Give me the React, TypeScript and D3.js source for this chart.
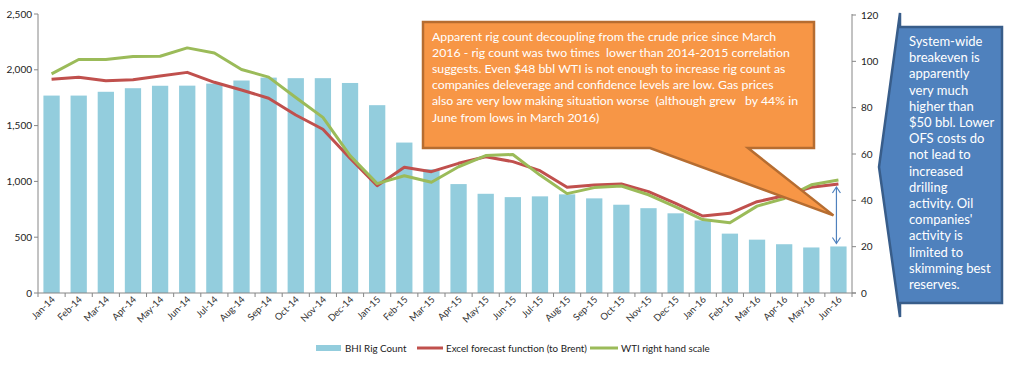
import { useEffect, useRef } from 'react';
import * as d3 from 'd3';

const MONTHS = [
  'Jan-14', 'Feb-14', 'Mar-14', 'Apr-14', 'May-14', 'Jun-14', 'Jul-14', 'Aug-14', 'Sep-14', 'Oct-14',
  'Nov-14', 'Dec-14', 'Jan-15', 'Feb-15', 'Mar-15', 'Apr-15', 'May-15', 'Jun-15', 'Jul-15', 'Aug-15',
  'Sep-15', 'Oct-15', 'Nov-15', 'Dec-15', 'Jan-16', 'Feb-16', 'Mar-16', 'Apr-16', 'May-16', 'Jun-16',
];
const RIG_COUNT = [
  1769, 1769, 1803, 1835, 1857, 1858, 1876, 1904, 1930, 1925,
  1925, 1882, 1683, 1348, 1109, 976, 889, 859, 866, 884,
  848, 791, 760, 714, 650, 532, 478, 437, 408, 417,
];
const FORECAST = [
  1915, 1933, 1902, 1911, 1944, 1977, 1888, 1819, 1745, 1595,
  1467, 1207, 962, 1126, 1087, 1162, 1221, 1177, 1096, 947,
  968, 977, 908, 804, 690, 714, 818, 872, 947, 977,
];
const WTI = [
  94.6, 100.8, 100.8, 102.1, 102.2, 105.8, 103.6, 96.5, 93.2, 84.4,
  75.8, 59.3, 47.2, 50.6, 47.8, 54.5, 59.3, 59.8, 50.9, 42.9,
  45.5, 46.2, 42.4, 37.2, 31.7, 30.3, 37.5, 40.8, 46.7, 48.8,
];
const LEFT_TICKS = [0, 500, 1000, 1500, 2000, 2500];
const RIGHT_TICKS = [0, 20, 40, 60, 80, 100, 120];

const ORANGE_NOTE = [
  'Apparent rig count decoupling from the crude price since March',
  '2016 - rig count was two times  lower than 2014-2015 correlation',
  'suggests. Even $48 bbl WTI is not enough to increase rig count as',
  'companies deleverage and confidence levels are low. Gas prices',
  'also are very low making situation worse  (although grew   by 44% in',
  'June from lows in March 2016)',
];
const BLUE_NOTE = [
  'System-wide', 'breakeven is', 'apparently', 'very much', 'higher than', '$50 bbl. Lower',
  'OFS costs do', 'not lead to', 'increased', 'drilling', 'activity. Oil', 'companies\'',
  'activity is', 'limited to', 'skimming best', 'reserves.',
];

const FONT = 'Lato, "Open Sans", sans-serif';

export default function App() {
  const svgRef = useRef<SVGSVGElement>(null);

  useEffect(() => {
    const svg = d3.select(svgRef.current);
    svg.selectAll('*').remove();

    const left = 38, right = 852, top = 14, bottom = 293;
    const x = d3.scaleBand<string>().domain(MONTHS).range([left, right]).paddingInner(0.4).paddingOuter(0.2);
    const yL = d3.scaleLinear().domain([0, 2500]).range([bottom, top]);
    const yR = d3.scaleLinear().domain([0, 120]).range([bottom, top + 1]);
    const cx = (i: number) => (x(MONTHS[i]) ?? 0) + x.bandwidth() / 2;
    const step = (right - left) / MONTHS.length;

    const axisColor = '#868686';

    // bars
    svg.append('g').selectAll('rect').data(RIG_COUNT).join('rect')
      .attr('x', (_, i) => x(MONTHS[i]) ?? 0)
      .attr('width', x.bandwidth())
      .attr('y', (d) => yL(d))
      .attr('height', (d) => bottom - yL(d))
      .attr('fill', '#93CDDD');

    // lines
    const lineL = d3.line<number>().x((_, i) => cx(i)).y((d) => yL(d));
    const lineR = d3.line<number>().x((_, i) => cx(i)).y((d) => yR(d));
    svg.append('path').attr('d', lineL(FORECAST)).attr('fill', 'none')
      .attr('stroke', '#C0504D').attr('stroke-width', 3).attr('stroke-linejoin', 'round');
    svg.append('path').attr('d', lineR(WTI)).attr('fill', 'none')
      .attr('stroke', '#9BBB59').attr('stroke-width', 3).attr('stroke-linejoin', 'round');

    // left axis
    const gl = svg.append('g');
    gl.append('line').attr('x1', left).attr('x2', left).attr('y1', top).attr('y2', bottom)
      .attr('stroke', axisColor);
    LEFT_TICKS.forEach((t) => {
      gl.append('line').attr('x1', left - 4).attr('x2', left).attr('y1', yL(t)).attr('y2', yL(t))
        .attr('stroke', axisColor);
      gl.append('text').attr('x', left - 6).attr('y', yL(t) + 3.5).attr('text-anchor', 'end')
        .attr('font-size', 10).attr('font-family', FONT).attr('fill', '#222')
        .text(d3.format(',')(t));
    });

    // right axis
    const gr = svg.append('g');
    gr.append('line').attr('x1', right).attr('x2', right).attr('y1', top).attr('y2', bottom)
      .attr('stroke', axisColor);
    RIGHT_TICKS.forEach((t) => {
      gr.append('line').attr('x1', right).attr('x2', right + 4).attr('y1', yR(t)).attr('y2', yR(t))
        .attr('stroke', axisColor);
      gr.append('text').attr('x', right + 9).attr('y', yR(t) + 3.5)
        .attr('font-size', 10).attr('font-family', FONT).attr('fill', '#222').text(t);
    });

    // x axis
    const gx = svg.append('g');
    gx.append('line').attr('x1', left).attr('x2', right + 4).attr('y1', bottom).attr('y2', bottom)
      .attr('stroke', axisColor);
    d3.range(MONTHS.length + 1).forEach((i) => {
      const tx = left + i * step;
      gx.append('line').attr('x1', tx).attr('x2', tx).attr('y1', bottom).attr('y2', bottom + 4)
        .attr('stroke', axisColor);
    });
    MONTHS.forEach((m, i) => {
      gx.append('text')
        .attr('transform', `translate(${cx(i) + 4},${bottom + 7}) rotate(-45)`)
        .attr('text-anchor', 'end').attr('font-size', 9.5).attr('font-family', FONT).attr('fill', '#333')
        .text(m);
    });

    // double arrow (Jun-16 gap)
    const last = MONTHS.length - 1;
    const ax = cx(last) - 2;
    const a1 = yL(FORECAST[last]) + 3, a2 = yL(RIG_COUNT[last]) - 3;
    const ga = svg.append('g').attr('stroke', '#4F81BD').attr('stroke-width', 1.2).attr('fill', 'none');
    ga.append('line').attr('x1', ax).attr('x2', ax).attr('y1', a1).attr('y2', a2);
    ga.append('path').attr('d', `M${ax - 4},${a1 + 6} L${ax},${a1} L${ax + 4},${a1 + 6}`);
    ga.append('path').attr('d', `M${ax - 4},${a2 - 6} L${ax},${a2} L${ax + 4},${a2 - 6}`);

    // orange callout
    const tipX = cx(last) - 5, tipY = yR(33.5);
    svg.append('path')
      .attr('d', `M423,22 H814 V148 H748 L${tipX},${tipY} L650,148 H423 Z`)
      .attr('fill', '#F79646').attr('stroke', '#B66D31').attr('stroke-width', 2.5).attr('stroke-linejoin', 'miter');
    const ot = svg.append('text').attr('font-size', 12.3).attr('font-family', FONT).attr('fill', '#fff')
      .style('white-space', 'pre');
    ORANGE_NOTE.forEach((s, i) => {
      ot.append('tspan').attr('x', 432).attr('y', 40.5 + i * 16.2).text(s);
    });

    // blue callout
    svg.append('path')
      .attr('d', 'M900,27 H1002 V303 H900 V317 L879,167 L900,13 Z')
      .attr('fill', '#4F81BD').attr('stroke', '#385D8A').attr('stroke-width', 2.5);
    const bt = svg.append('text').attr('font-size', 13).attr('font-family', FONT).attr('fill', '#fff');
    BLUE_NOTE.forEach((s, i) => {
      bt.append('tspan').attr('x', 909).attr('y', 46 + i * 16.2).text(s);
    });

    // legend
    const lg = svg.append('g').attr('font-size', 9.8).attr('font-family', FONT).attr('fill', '#222');
    const ly = 348;
    lg.append('rect').attr('x', 316).attr('y', ly - 3).attr('width', 25).attr('height', 6).attr('fill', '#93CDDD');
    lg.append('text').attr('x', 345).attr('y', ly + 3.5).text('BHI Rig Count');
    lg.append('line').attr('x1', 417).attr('x2', 443).attr('y1', ly).attr('y2', ly)
      .attr('stroke', '#C0504D').attr('stroke-width', 3);
    lg.append('text').attr('x', 446).attr('y', ly + 3.5).text('Excel forecast function (to Brent)');
    lg.append('line').attr('x1', 590).attr('x2', 618).attr('y1', ly).attr('y2', ly)
      .attr('stroke', '#9BBB59').attr('stroke-width', 3);
    lg.append('text').attr('x', 621).attr('y', ly + 3.5).text('WTI right hand scale');
  }, []);

  return (
    <div style={{ position: 'absolute', left: 0, top: 0 }}>
      <svg ref={svgRef} width={1009} height={366} style={{ display: 'block', background: '#fff' }} />
    </div>
  );
}
